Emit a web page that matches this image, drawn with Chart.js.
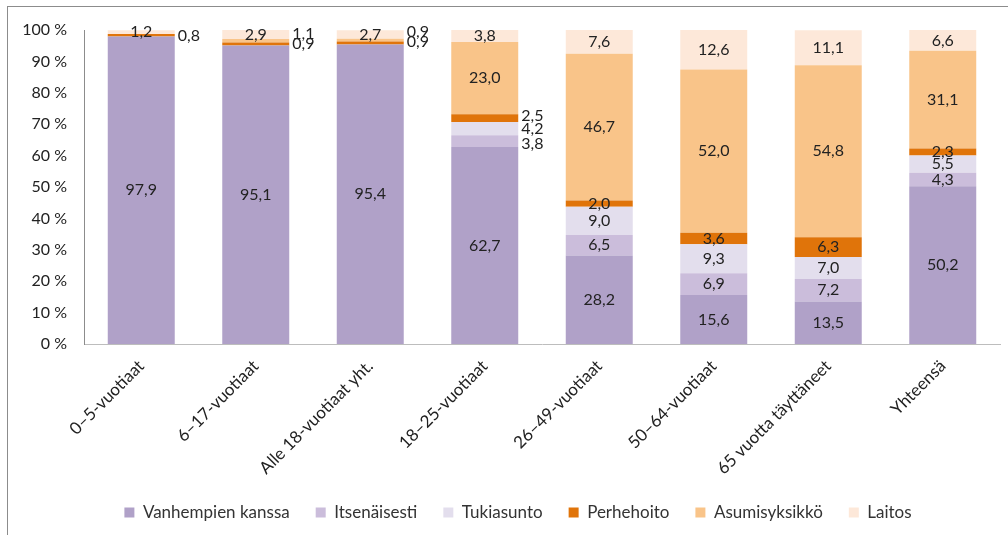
<!DOCTYPE html>
<html>
<head>
<meta charset="utf-8">
<script src="https://cdn.jsdelivr.net/npm/chart.js@4"></script>
<style>
  html, body { margin: 0; padding: 0; background: #fff; }
  #wrap { position: relative; width: 1008px; height: 535px; overflow: hidden; }
  #frame { position: absolute; left: 7px; top: 6px; width: 1020px; height: 560px; border: 1px solid #8c8c8c; }
  canvas { position: absolute; left: 0; top: 0; }
</style>
</head>
<body>
<div id="wrap">
  <div id="frame"></div>
  <canvas id="chart" width="1008" height="535"></canvas>
</div>
<script>
const categories = ['0–5-vuotiaat', '6–17-vuotiaat', 'Alle 18-vuotiaat yht.', '18–25-vuotiaat',
  '26–49-vuotiaat', '50–64-vuotiaat', '65 vuotta täyttäneet', 'Yhteensä'];
const vanhempien = [97.9, 95.1, 95.4, 62.7, 28.2, 15.6, 13.5, 50.2];
const itsenaisesti = [0, 0, 0, 3.8, 6.5, 6.9, 7.2, 4.3];
const tukiasunto = [0, 0, 0, 4.2, 9.0, 9.3, 7.0, 5.5];
const perhehoito = [0.8, 0.9, 0.9, 2.5, 2.0, 3.6, 6.3, 2.3];
const asumisyksikko = [0, 1.1, 0.9, 23.0, 46.7, 52.0, 54.8, 31.1];
const laitos = [1.2, 2.9, 2.7, 3.8, 7.6, 12.6, 11.1, 6.6];
const yTicks = [0, 10, 20, 30, 40, 50, 60, 70, 80, 90, 100];

// labels that sit beside the bar instead of inside: "dataset:index" -> vertical shift
const outside = { '3:0': 1, '4:1': -7, '3:1': 0, '4:2': -8, '3:2': -1, '1:3': 3, '2:3': 0, '3:3': -2 };

const font = "Lato, 'Open Sans', sans-serif";

const labelPlugin = {
  id: 'segLabels',
  afterLayout(chart) {
    // legend sits centred under the plot area, not the whole canvas
    chart.legend.left += 18;
    chart.legend.right += 18;
  },
  afterDatasetsDraw(chart) {
    const ctx = chart.ctx;
    ctx.save();
    ctx.font = '16px ' + font;
    ctx.fillStyle = '#222';
    ctx.textBaseline = 'middle';
    chart.data.datasets.forEach((ds, di) => {
      chart.getDatasetMeta(di).data.forEach((bar, i) => {
        const v = ds.data[i];
        if (!v) return;
        const txt = v.toFixed(1).replace('.', ',');
        const y = (bar.y + bar.base) / 2;
        const key = di + ':' + i;
        if (key in outside) {
          ctx.textAlign = 'left';
          ctx.fillText(txt, bar.x + bar.width / 2 + 3, y + outside[key]);
        } else {
          ctx.textAlign = 'center';
          ctx.fillText(txt, bar.x, y);
        }
      });
    });
    ctx.restore();
  }
};

const series = [
  ['Vanhempien kanssa', vanhempien, '#b0a1c8'],
  ['Itsenäisesti', itsenaisesti, '#cbbddb'],
  ['Tukiasunto', tukiasunto, '#e3deed'],
  ['Perhehoito', perhehoito, '#e0740a'],
  ['Asumisyksikkö', asumisyksikko, '#f9c489'],
  ['Laitos', laitos, '#fde8d9']
];

new Chart(document.getElementById('chart'), {
  type: 'bar',
  data: {
    labels: categories,
    datasets: series.map(s => ({
      label: s[0],
      data: s[1],
      backgroundColor: s[2],
      borderWidth: 0,
      categoryPercentage: 1,
      barPercentage: 0.585
    }))
  },
  options: {
    responsive: false,
    animation: false,
    layout: { padding: { left: 0, right: 8, top: 30, bottom: 4 } },
    plugins: {
      legend: {
        position: 'bottom',
        labels: {
          font: { family: font, size: 17 },
          color: '#333',
          boxWidth: 10,
          boxHeight: 10,
          padding: 26
        }
      },
      tooltip: { enabled: false }
    },
    scales: {
      x: {
        stacked: true,
        grid: { display: false },
        border: { display: true, color: '#bdbdbd' },
        ticks: {
          font: { family: font, size: 17 },
          color: '#222',
          minRotation: 45,
          maxRotation: 45,
          padding: 4
        },
        afterFit(scale) { scale.height = 134; }
      },
      y: {
        stacked: true,
        min: 0,
        max: 100,
        grid: { display: false },
        border: { display: true, color: '#8c8c8c' },
        afterBuildTicks(scale) { scale.ticks = yTicks.map(v => ({ value: v })); },
        ticks: {
          font: { family: font, size: 16 },
          color: '#222',
          padding: 9,
          callback: v => v + ' %'
        },
        afterFit(scale) { scale.width = 84; }
      }
    }
  },
  plugins: [labelPlugin]
});
</script>
</body>
</html>
